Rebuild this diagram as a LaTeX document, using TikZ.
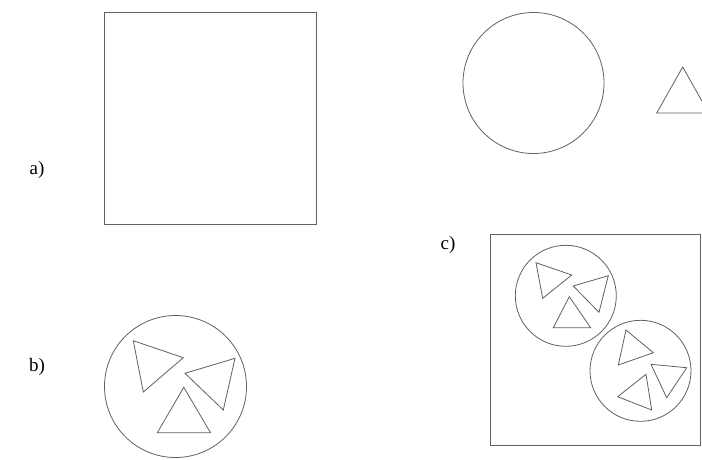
\documentclass[tikz,border=0pt]{standalone}
\usepackage{fontspec}
\setmainfont{Liberation Serif}
\usepackage{tikz}

\tikzset{
  outline/.style={draw=black!62, line width=0.8pt, line join=miter},
  tag/.style={font=\fontsize{19}{22}\selectfont, inner sep=0pt}
}

\begin{document}
\begin{tikzpicture}[x=1pt, y=-1pt]
\clip (0,0) rectangle (702,459);
\fill[white] (0,0) rectangle (702,459);
% labels
\node[tag] (lbla) at (37,170) {a)};
\node[tag] (lblb) at (37,367) {b)};
\node[tag] (lblc) at (448,245) {c)};
% a) square, circle and triangle
\draw[outline] (104,12.5) rectangle (316.5,224.5);
\draw[outline] (533.5,83) circle (70.5pt);
\draw[outline] (656.7,113) -- (682.7,67) -- (708.7,113) -- cycle;
% b) circle with three triangles
\draw[outline] (175.5,386.5) circle (71pt);
\draw[outline] (133.3,340.7) -- (183.3,357.7) -- (143.3,392) -- cycle;
\draw[outline] (185,373.3) -- (235,358.3) -- (223.3,410) -- cycle;
\draw[outline] (183.8,387.3) -- (157.3,432.7) -- (210.5,432.7) -- cycle;
% c) box with two circles
\draw[outline] (490,234) rectangle (700,445);
\draw[outline] (565.8,295.8) circle (50.5pt);
\draw[outline] (536,262.7) -- (571.7,275) -- (542.7,298.3) -- cycle;
\draw[outline] (573.3,286) -- (608.3,275.7) -- (599,312.3) -- cycle;
\draw[outline] (569.3,296.7) -- (553.3,327.7) -- (590.7,327.7) -- cycle;
\draw[outline] (640.5,370.8) circle (50.5pt);
\draw[outline] (626,330) -- (653.3,352.7) -- (618.3,365) -- cycle;
\draw[outline] (651,364.3) -- (686.7,367.7) -- (666.7,397.7) -- cycle;
\draw[outline] (646,374.3) -- (651.7,410) -- (617.7,396.7) -- cycle;
\end{tikzpicture}
\end{document}
